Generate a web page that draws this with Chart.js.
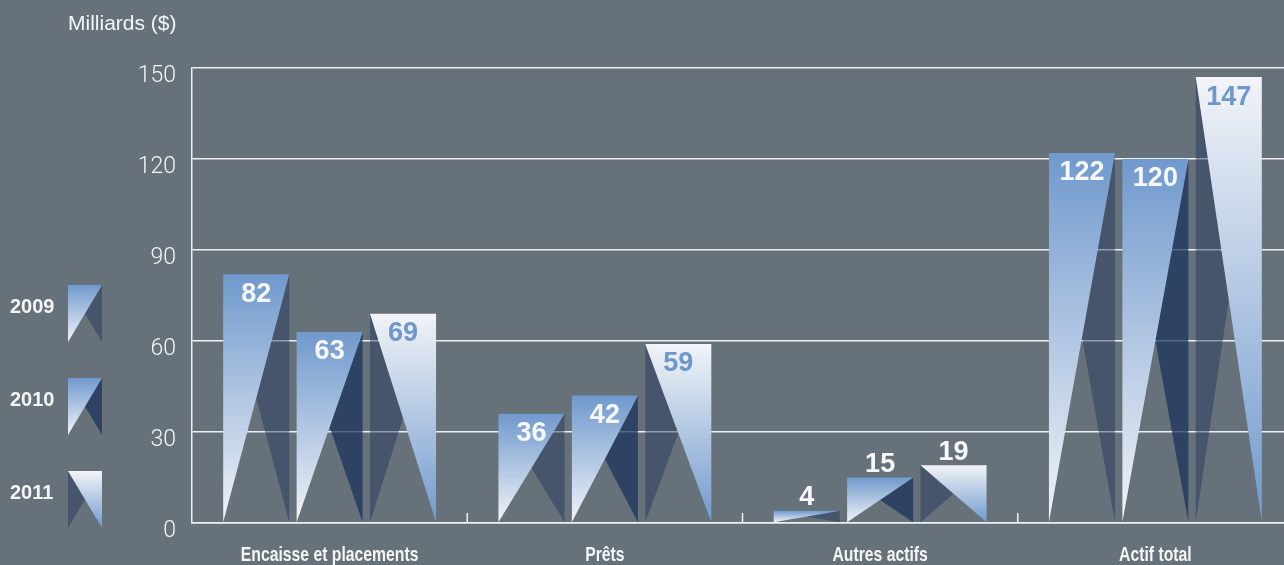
<!DOCTYPE html>
<html>
<head>
<meta charset="utf-8">
<script src="https://cdn.jsdelivr.net/npm/chart.js@4.4.1/dist/chart.umd.min.js"></script>
<style>
  html, body { margin: 0; padding: 0; background: #66717a; overflow: hidden; }
  #wrap { width: 1293px; height: 565px; }
</style>
</head>
<body>
<div id="wrap"><canvas id="assetsChart" width="1293" height="565"></canvas></div>
<script>
// data (billions of $)
const categories = ['Encaisse et placements', 'Prêts', 'Autres actifs', 'Actif total'];
const years = ['2009', '2010', '2011'];
const values2009 = [82, 36, 4, 122];
const values2010 = [63, 42, 15, 120];
const values2011 = [69, 59, 19, 147];
const yTicks = [0, 30, 60, 90, 120, 150];
const unitLabel = 'Milliards ($)';

const BLUE = '#7099cd';
const WHITE = '#f2f4f8';
const TEXT = '#f4f5f6';

// look of each year: which side is light, dark triangle colour, label colour
const yearStyles = [
    { flip: false, dark: 'rgba(30, 50, 90, 0.45)', label: '#f7f8fa' },
    { flip: false, dark: 'rgba(25, 50, 90, 0.72)', label: '#f7f8fa' },
    { flip: true,  dark: 'rgba(30, 50, 90, 0.45)', label: '#6e97cc' }
];

function drawMark(ctx, L, R, T, B, style) {
    const cx = (L + R) / 2, cy = (T + B) / 2;
    // dark side triangle
    ctx.fillStyle = style.dark;
    ctx.beginPath();
    if (style.flip) {
        ctx.moveTo(L, T); ctx.lineTo(L, B); ctx.lineTo(cx, cy);
    } else {
        ctx.moveTo(R, T); ctx.lineTo(R, B); ctx.lineTo(cx, cy);
    }
    ctx.closePath();
    ctx.fill();
    // light gradient triangle
    const g = ctx.createLinearGradient(0, T, 0, B);
    if (style.flip) {
        g.addColorStop(0, WHITE); g.addColorStop(1, BLUE);
    } else {
        g.addColorStop(0, BLUE); g.addColorStop(1, WHITE);
    }
    ctx.fillStyle = g;
    ctx.beginPath();
    ctx.moveTo(L, T); ctx.lineTo(R, T);
    if (style.flip) ctx.lineTo(R, B); else ctx.lineTo(L, B);
    ctx.closePath();
    ctx.fill();
}

const triangleBars = {
    id: 'triangleBars',
    afterDatasetsDraw(chart) {
        const ctx = chart.ctx;
        ctx.save();
        chart.data.datasets.forEach((ds, di) => {
            const meta = chart.getDatasetMeta(di);
            const style = yearStyles[di];
            meta.data.forEach((el, i) => {
                const p = el.getProps(['x', 'y', 'base', 'width'], true);
                const L = p.x - p.width / 2, R = p.x + p.width / 2;
                drawMark(ctx, L, R, p.y, p.base, style);

                // value label
                const h = p.base - p.y;
                ctx.font = 'bold 27px "Liberation Sans", Arial, sans-serif';
                ctx.textAlign = 'center';
                ctx.textBaseline = 'middle';
                if (h < 70) {
                    ctx.fillStyle = '#f7f8fa';
                    ctx.fillText(ds.data[i], p.x, p.y - 13);
                } else {
                    ctx.fillStyle = style.label;
                    ctx.fillText(ds.data[i], p.x, p.y + 20);
                }
            });
        });
        ctx.restore();
    },
    afterDraw(chart) {
        const ctx = chart.ctx;
        const xs = chart.scales.x;
        const bottom = chart.chartArea.bottom;
        ctx.save();
        // small separators between groups
        ctx.strokeStyle = '#eef0f2';
        ctx.lineWidth = 1.5;
        for (let i = 1; i < categories.length; i++) {
            const x = (xs.getPixelForValue(i - 1) + xs.getPixelForValue(i)) / 2;
            ctx.beginPath();
            ctx.moveTo(x, bottom);
            ctx.lineTo(x, bottom - 10);
            ctx.stroke();
        }
        // category names, condensed bold
        ctx.fillStyle = TEXT;
        ctx.font = 'bold 21px "Liberation Sans", Arial, sans-serif';
        ctx.textAlign = 'center';
        ctx.textBaseline = 'middle';
        categories.forEach((c, i) => {
            const x = xs.getPixelForValue(i);
            ctx.save();
            ctx.translate(x, bottom + 32);
            ctx.scale(0.75, 1);
            ctx.fillText(c, 0, 0);
            ctx.restore();
        });
        // unit label
        ctx.font = '21px "Liberation Sans", Arial, sans-serif';
        ctx.textAlign = 'left';
        ctx.fillText(unitLabel, 68, 24);
        // legend
        const legendY = [285, 378, 471];
        years.forEach((yr, i) => {
            const top = legendY[i];
            ctx.fillStyle = TEXT;
            ctx.font = 'bold 20px "Liberation Sans", Arial, sans-serif';
            ctx.textAlign = 'left';
            ctx.textBaseline = 'middle';
            ctx.fillText(yr, 10, top + 22);
            drawMark(ctx, 68, 102, top, top + 57, yearStyles[i]);
        });
        ctx.restore();
    }
};

const assetsChart = new Chart(document.getElementById('assetsChart'), {
    type: 'bar',
    data: {
        labels: categories,
        datasets: [
            { label: years[0], data: values2009 },
            { label: years[1], data: values2010 },
            { label: years[2], data: values2011 }
        ].map(d => Object.assign(d, {
            backgroundColor: 'rgba(0,0,0,0)',
            borderWidth: 0,
            categoryPercentage: 0.8,
            barPercentage: 0.9
        }))
    },
    options: {
        responsive: false,
        animation: false,
        layout: { padding: { top: 68, left: 0, right: 0, bottom: 0 } },
        plugins: {
            legend: { display: false },
            tooltip: { enabled: false }
        },
        scales: {
            x: {
                grid: { display: false },
                border: { display: true, color: '#eef0f2', width: 1.5 },
                ticks: { display: false },
                afterFit: s => { s.height = 42; }
            },
            y: {
                min: yTicks[0],
                max: yTicks[yTicks.length - 1],
                afterBuildTicks: s => { s.ticks = yTicks.map(v => ({ value: v })); },
                grid: { color: '#eef0f2', lineWidth: 1.5, drawTicks: false },
                border: { display: true, color: '#eef0f2', width: 1.5 },
                ticks: {
                    color: TEXT,
                    padding: 16,
                    labelOffset: 8,
                    font: { family: 'Roboto, "Liberation Sans", sans-serif', weight: 300, size: 23 }
                },
                afterFit: s => { s.width = 192; }
            }
        }
    },
    plugins: [triangleBars]
});
</script>
</body>
</html>
